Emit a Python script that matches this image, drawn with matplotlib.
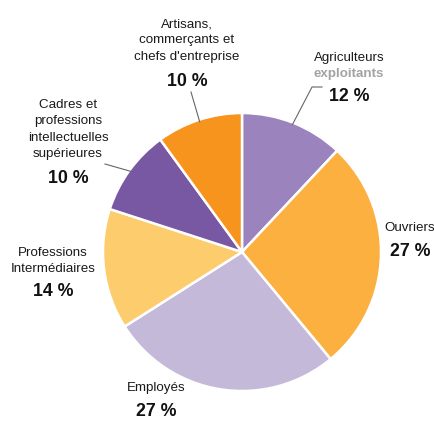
import numpy as np
import matplotlib.pyplot as plt

plt.rcParams['font.family'] = ['Liberation Sans', 'DejaVu Sans']

# %% data

categories = ['Agriculteurs\nexploitants', 'Ouvriers', 'Employés', 'Professions\nIntermédiaires',
              'Cadres et\nprofessions\nintellectuelles\nsupérieures',
              'Artisans,\ncommerçants et\nchefs d\'entreprise']
shares = [12, 27, 27, 14, 10, 10]
colors = ['#9b84bd', '#fbb040', '#c5b9da', '#fdcd6d', '#7857a3', '#f7941d']

# %% figure

W, H = 434, 428
fig = plt.figure(figsize=(W/100, H/100), dpi=100)
ax = fig.add_axes([0, 0, 1, 1])
ax.set_xlim(0, W)
ax.set_ylim(0, H)
ax.set_aspect('equal')
ax.axis('off')

cx, cy, r = 242, H - 252, 139
wedges, _ = ax.pie(shares, colors=colors, startangle=90, counterclock=False,
                   center=(cx, cy), radius=r, frame=True,
                   wedgeprops=dict(edgecolor='white', linewidth=1.8))
ax.set_xlim(0, W)
ax.set_ylim(0, H)
ax.axis('off')

fs_lab = 9.6
fs_pct = 12.8

# label positions in pixel coords (x, y of first text line, y of percent)
label_pos = {
    0: (349, 58, 96),
    1: (410, 228, 252),
    2: (156, 388, 411),
    3: (53, 253, 291),
    4: (68, 105, 178),
    5: (187, 24, 81),
}
line_step = 16.3

for i, (x, y0, yp) in label_pos.items():
    lines = categories[i].split('\n')
    for k, ln in enumerate(lines):
        if i == 0 and k == 1:
            ax.text(x, H - (y0 + k*line_step), ln, ha='center', va='center',
                    fontsize=fs_lab, color='#a3a3a3', fontweight='bold')
        else:
            ax.text(x, H - (y0 + k*line_step), ln, ha='center', va='center',
                    fontsize=fs_lab, color='#1a1a1a')
    ax.text(x, H - yp, f'{shares[i]} %', ha='center', va='center',
            fontsize=fs_pct, fontweight='bold', color='#111111')

# leader lines from wedge middles
def mid_point(w, rr):
    a = np.deg2rad((w.theta1 + w.theta2) / 2)
    return cx + rr*np.cos(a), cy + rr*np.sin(a)

x0, y0 = mid_point(wedges[0], r - 2)
ax.plot([x0, 312, 322], [y0, H - 87, H - 87], color='#666666', lw=0.8)
x0, y0 = mid_point(wedges[5], r - 2)
ax.plot([x0, 191], [y0, H - 92], color='#666666', lw=0.8)
x0, y0 = mid_point(wedges[4], r - 2)
ax.plot([x0, 105], [y0, H - 164], color='#666666', lw=0.8)

fig.savefig('out.png', dpi=100)
